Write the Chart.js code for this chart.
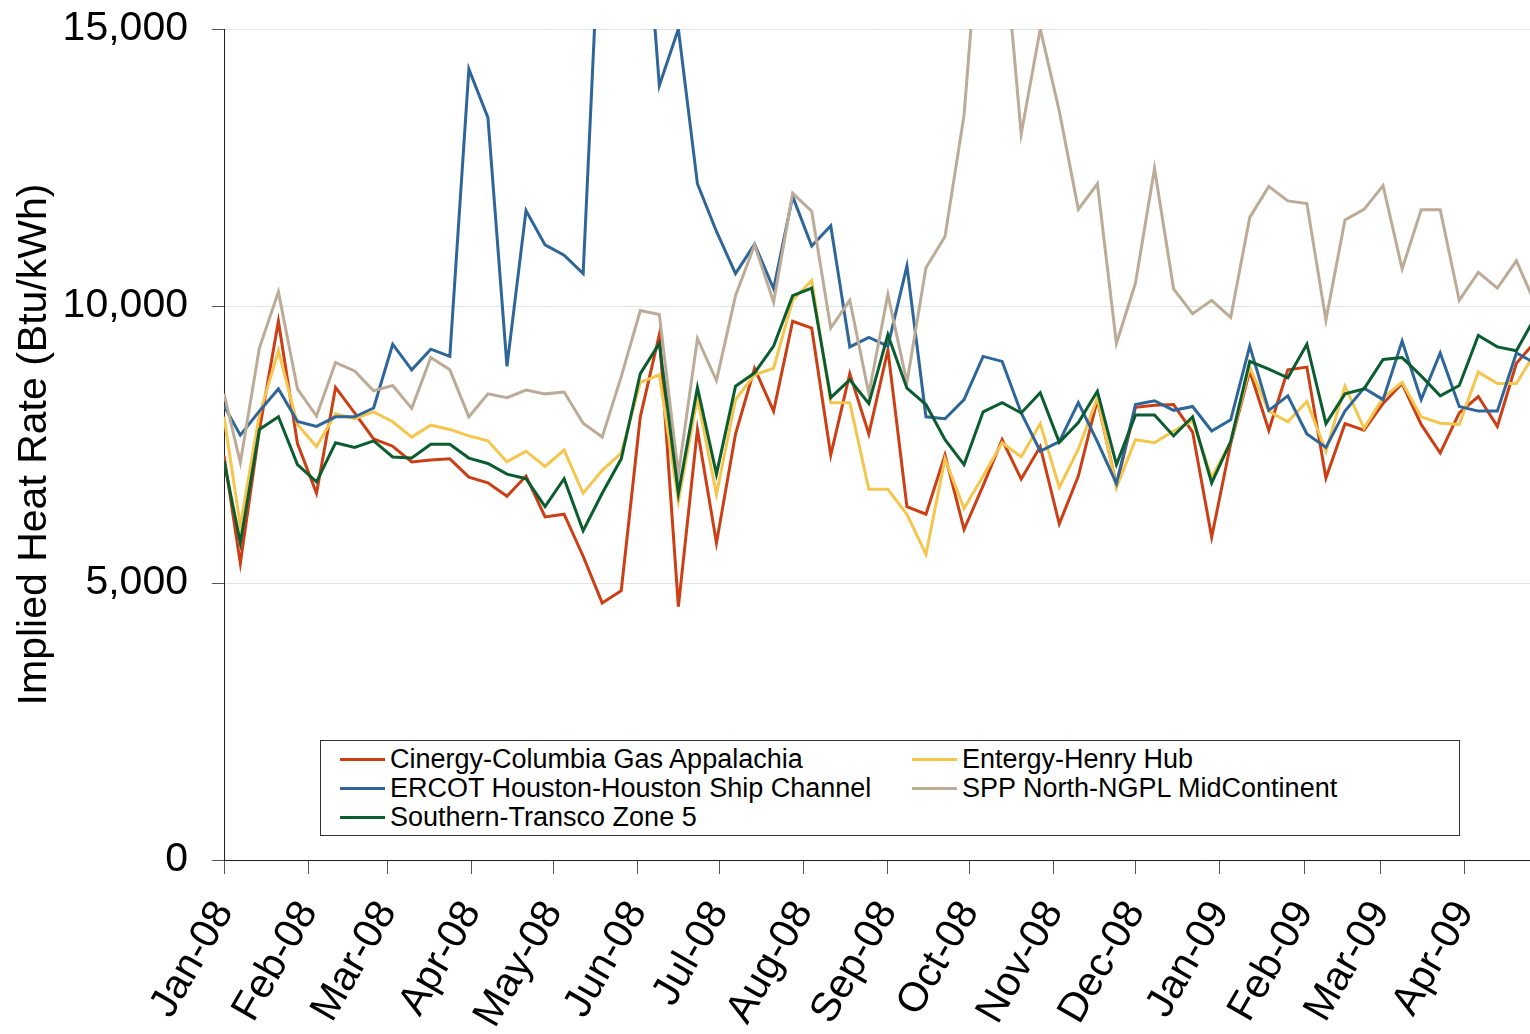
<!DOCTYPE html>
<html>
<head>
<meta charset="utf-8">
<script src="https://cdn.jsdelivr.net/npm/chart.js@4.4.0/dist/chart.umd.min.js"></script>
<style>
    body { margin: 0; background: #fff; }
    #wrap { position: relative; width: 1530px; height: 1034px; overflow: hidden; }
    #legend {
        position: absolute; left: 320px; top: 740px; width: 1138px; height: 94px;
        border: 1px solid #333; background: #fff;
        font-family: "Liberation Sans", Arial, sans-serif; font-size: 27px; color: #000;
    }
    .item { position: absolute; height: 29px; line-height: 29px; white-space: nowrap; }
    .item span.swatch { display: inline-block; width: 45px; height: 3px; vertical-align: middle; margin-right: 5px; position: relative; top: -1px; }
</style>
</head>
<body>
<div id="wrap">
    <canvas id="chart"></canvas>
    <div id="legend"></div>
</div>
<script>
// weekly observation dates (first one is Jan 1, then Mondays)
const weekDates = [
    '2008-01-01', '2008-01-07', '2008-01-14', '2008-01-21', '2008-01-28',
    '2008-02-04', '2008-02-11', '2008-02-18', '2008-02-25',
    '2008-03-03', '2008-03-10', '2008-03-17', '2008-03-24', '2008-03-31',
    '2008-04-07', '2008-04-14', '2008-04-21', '2008-04-28',
    '2008-05-05', '2008-05-12', '2008-05-19', '2008-05-26',
    '2008-06-02', '2008-06-09', '2008-06-16', '2008-06-23', '2008-06-30',
    '2008-07-07', '2008-07-14', '2008-07-21', '2008-07-28',
    '2008-08-04', '2008-08-11', '2008-08-18', '2008-08-25',
    '2008-09-01', '2008-09-08', '2008-09-15', '2008-09-22', '2008-09-29',
    '2008-10-06', '2008-10-13', '2008-10-20', '2008-10-27',
    '2008-11-03', '2008-11-10', '2008-11-17', '2008-11-24',
    '2008-12-01', '2008-12-08', '2008-12-15', '2008-12-22', '2008-12-29',
    '2009-01-05', '2009-01-12', '2009-01-19', '2009-01-26',
    '2009-02-02', '2009-02-09', '2009-02-16', '2009-02-23',
    '2009-03-02', '2009-03-09', '2009-03-16', '2009-03-23', '2009-03-30',
    '2009-04-06', '2009-04-13', '2009-04-20', '2009-04-27'
];

const cinergy = [
    7300, 5356, 7758, 9724, 7517, 6620, 8531, 8069, 7600, 7469,
    7186, 7220, 7241, 6910, 6807, 6566, 6931, 6193, 6241, 5483,
    4641, 4862, 8000, 9483, 4572, 7772, 5724, 7690, 8876, 8103,
    9724, 9600, 7310, 8779, 7690, 9207, 6379, 6241, 7310, 5966,
    6758, 7586, 6876, 7462, 6069, 6931, 8310, 6758, 8172, 8207,
    8221, 7724, 5828, 7517, 8828, 7758, 8848, 8897, 6896, 7876,
    7758, 8241, 8600, 7862, 7345, 8069, 8366, 7828, 8966, 9359
];
const entergy = [
    8000, 6034, 8034, 9193, 7862, 7462, 8055, 7965, 8090, 7910,
    7634, 7848, 7772, 7655, 7566, 7186, 7379, 7103, 7400, 6620,
    7034, 7345, 8621, 8759, 6483, 8345, 6600, 8310, 8759, 8876,
    10103, 10462, 8255, 8255, 6690, 6690, 6241, 5517, 7241, 6345,
    6931, 7531, 7276, 7876, 6724, 7414, 8345, 6724, 7586, 7531,
    7745, 7931, 6900, 7552, 8897, 8103, 7910, 8276, 7379, 8552,
    7793, 8345, 8621, 8000, 7883, 7862, 8807, 8600, 8600, 9165
];
const ercot = [
    8200, 7669, 8103, 8503, 7917, 7828, 8000, 8000, 8159, 9310,
    8848, 9221, 9090, 14276, 13400, 8910, 11724, 11103, 10917, 10586,
    18000, 20000, 18500, 13980, 15000, 12207, 11345, 10586, 11117, 10310,
    11979, 11083, 11448, 9262, 9434, 9276, 10724, 8000, 7965, 8310,
    9090, 9000, 8069, 7379, 7552, 8255, 7552, 6793, 8221, 8290,
    8117, 8186, 7745, 7945, 9276, 8117, 8379, 7690, 7448, 8103,
    8517, 8310, 9366, 8310, 9152, 8186, 8103, 8103, 9152, 8966
];
const spp = [
    8414, 7172, 9241, 10255, 8503, 8013, 8979, 8828, 8469, 8566,
    8152, 9069, 8848, 8000, 8414, 8345, 8483, 8414, 8448, 7883,
    7634, 8724, 9917, 9848, 6965, 9414, 8655, 10186, 11103, 10069,
    12034, 11710, 9600, 10103, 8414, 10207, 8621, 10690, 11255, 13448,
    17800, 17000, 13103, 15000, 13517, 11745, 12207, 9324, 10414, 12483,
    10310, 9862, 10103, 9793, 11600, 12159, 11897, 11848, 9745, 11552,
    11745, 12172, 10669, 11738, 11738, 10103, 10607, 10324, 10814, 10034
];
const southern = [
    7200, 5724, 7772, 8000, 7138, 6827, 7531, 7448, 7565, 7276,
    7255, 7503, 7503, 7255, 7158, 6965, 6883, 6379, 6883, 5945,
    6620, 7241, 8779, 9324, 6620, 8531, 6965, 8552, 8793, 9276,
    10186, 10324, 8345, 8669, 8241, 9483, 8517, 8221, 7586, 7138,
    8090, 8255, 8069, 8434, 7538, 7896, 8462, 7138, 8034, 8034,
    7655, 8000, 6807, 7552, 9000, 8862, 8703, 9310, 7876, 8414,
    8503, 9034, 9069, 8738, 8379, 8566, 9469, 9262, 9193, 9807
];

const monthStarts = [
    '2008-01-01', '2008-02-01', '2008-03-01', '2008-04-01', '2008-05-01', '2008-06-01',
    '2008-07-01', '2008-08-01', '2008-09-01', '2008-10-01', '2008-11-01', '2008-12-01',
    '2009-01-01', '2009-02-01', '2009-03-01', '2009-04-01'
];
const monthLabels = [
    'Jan-08', 'Feb-08', 'Mar-08', 'Apr-08', 'May-08', 'Jun-08', 'Jul-08', 'Aug-08',
    'Sep-08', 'Oct-08', 'Nov-08', 'Dec-08', 'Jan-09', 'Feb-09', 'Mar-09', 'Apr-09'
];
const axisEnd = '2009-04-25';

const seriesNames = [
    'Cinergy-Columbia Gas Appalachia', 'Entergy-Henry Hub',
    'ERCOT Houston-Houston Ship Channel', 'SPP North-NGPL MidContinent',
    'Southern-Transco Zone 5'
];
const seriesColors = ['#cc3f15', '#f5c64e', '#2e6699', '#bcab96', '#0b5d30'];

// days since Jan 1 2008
function dayNum(s) {
    return (Date.parse(s + 'T00:00:00Z') - Date.parse('2008-01-01T00:00:00Z')) / 86400000;
}

const xDays = weekDates.map(dayNum);
const tickDays = monthStarts.map(dayNum);
const allSeries = [cinergy, entergy, ercot, spp, southern];
const FONT = '"Liberation Sans", Arial, sans-serif';

const datasets = allSeries.map((vals, i) => ({
    label: seriesNames[i],
    data: vals.map((v, j) => ({ x: xDays[j], y: v })),
    borderColor: seriesColors[i],
    borderWidth: 3,
    pointRadius: 0,
    fill: false,
    tension: 0,
    order: allSeries.length - i   // later series drawn on top, like the original
}));

const ctx = document.getElementById('chart').getContext('2d');
const chart = new Chart(ctx, {
    type: 'line',
    data: { datasets: datasets },
    options: {
        responsive: true,
        maintainAspectRatio: false,
        animation: false,
        layout: { padding: { top: 29, left: 0, right: 0, bottom: 0 } },
        plugins: {
            legend: { display: false },
            tooltip: { enabled: false }
        },
        scales: {
            x: {
                type: 'linear',
                min: 0,
                max: dayNum(axisEnd),
                afterBuildTicks: scale => {
                    scale.ticks = tickDays.map(d => ({ value: d }));
                },
                afterFit: scale => {
                    scale.height = 174;
                    scale.paddingLeft = 0;
                    scale.paddingRight = 0;
                },
                ticks: {
                    autoSkip: false,
                    minRotation: 60,
                    maxRotation: 60,
                    padding: 19,
                    color: '#000',
                    font: { family: FONT, size: 41 },
                    callback: (v, i) => monthLabels[i]
                },
                grid: { drawOnChartArea: false, drawTicks: true, tickLength: 14, tickColor: '#555' },
                border: { color: '#222', width: 1 }
            },
            y: {
                min: 0,
                max: 15000,
                afterFit: scale => {
                    scale.width = 224;
                    // keep the plot top fixed; the "15,000" label may overhang it
                    scale.paddingTop = 0;
                    scale.paddingBottom = 0;
                },
                ticks: {
                    stepSize: 5000,
                    padding: 24,
                    color: '#000',
                    font: { family: FONT, size: 41 },
                    callback: v => v.toLocaleString('en-US')
                },
                grid: { color: '#dde6e6', lineWidth: 1, tickLength: 12, tickColor: '#555' },
                border: { color: '#222', width: 1 },
                title: {
                    display: true,
                    text: 'Implied Heat Rate (Btu/kWh)',
                    color: '#000',
                    font: { family: FONT, size: 41, lineHeight: 1.2 },
                    padding: { top: 10, bottom: 0 }
                }
            }
        }
    }
});

// legend laid out like the original: two columns, filled row by row
const legendBox = document.getElementById('legend');
const colX = [19, 591];
const rowY = [4, 33, 62];
seriesNames.forEach((name, i) => {
    const div = document.createElement('div');
    div.className = 'item';
    div.style.left = colX[i % 2] + 'px';
    div.style.top = rowY[Math.floor(i / 2)] + 'px';
    div.innerHTML = '<span class="swatch" style="background:' + seriesColors[i] + '"></span>' + name;
    legendBox.appendChild(div);
});
</script>
</body>
</html>
